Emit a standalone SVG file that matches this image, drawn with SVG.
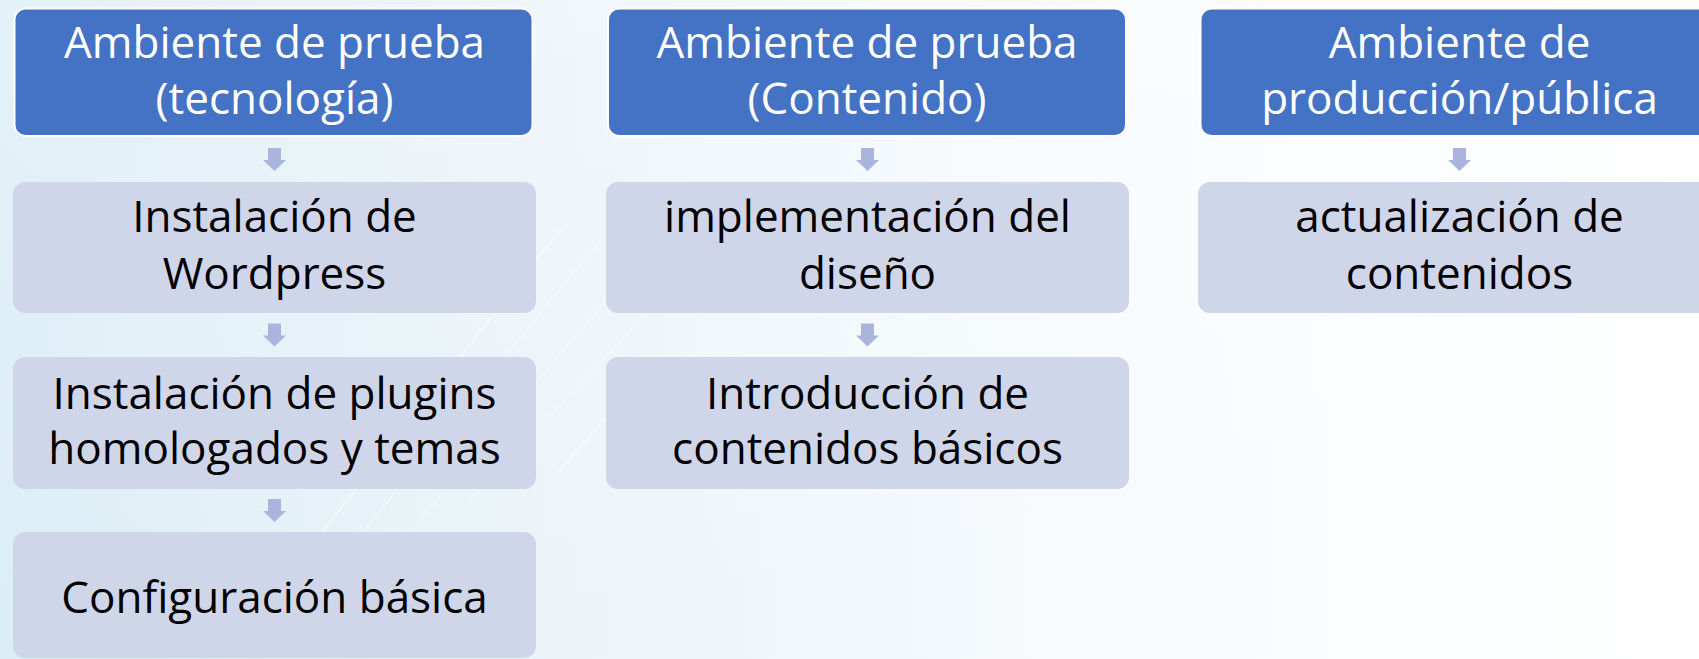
<svg xmlns="http://www.w3.org/2000/svg" width="1699" height="659" viewBox="0 0 1699 659">
  <defs>
    <linearGradient id="bg" x1="0" y1="0" x2="1" y2="0">
      <stop offset="0" stop-color="#dbedf6"/>
      <stop offset="0.3" stop-color="#eaf3f9"/>
      <stop offset="0.6" stop-color="#f6fafd"/>
      <stop offset="1" stop-color="#ffffff"/>
    </linearGradient>
    <linearGradient id="bgv" x1="0" y1="0" x2="0" y2="1">
      <stop offset="0" stop-color="#ffffff" stop-opacity="0.25"/>
      <stop offset="1" stop-color="#ffffff" stop-opacity="0"/>
    </linearGradient>
    <style>
      .hdr { fill: #4472c4; stroke: #ffffff; stroke-width: 2; }
      .box { fill: #d0d6ea; }
      .arrow { fill: #a9b5dc; }
      .t { font-family: "Open Sans", "Liberation Sans", sans-serif; font-size: 44px; text-anchor: middle; }
      .tw { fill: #ffffff; }
      .tb { fill: #000000; }
      .streak { stroke: #ffffff; fill: none; stroke-linecap: round; }
    </style>
  </defs>

  <rect x="0" y="0" width="1699" height="659" fill="url(#bg)"/>
  <rect x="0" y="0" width="1699" height="659" fill="url(#bgv)"/>
  <g id="background-streaks" opacity="0.35">
    <path class="streak" d="M300 560 L560 230" stroke-width="3"/>
    <path class="streak" d="M340 560 L600 240" stroke-width="2"/>
    <path class="streak" d="M420 520 L640 260" stroke-width="2"/>
    <path class="streak" d="M470 500 L660 300" stroke-width="1.5"/>
    <path class="streak" d="M560 470 L640 380" stroke-width="4"/>
  </g>

  <g id="connectors">
    <polygon class="arrow" points="268,148 281,148 281,160 286,160 274.5,171 263,160 268,160"/>
    <polygon class="arrow" points="268,323.5 281,323.5 281,335.5 286,335.5 274.5,346.5 263,335.5 268,335.5"/>
    <polygon class="arrow" points="268,499 281,499 281,511 286,511 274.5,522 263,511 268,511"/>
    <polygon class="arrow" points="861,148 874,148 874,160 879,160 867.5,171 856,160 861,160"/>
    <polygon class="arrow" points="861,323.5 874,323.5 874,335.5 879,335.5 867.5,346.5 856,335.5 861,335.5"/>
    <polygon class="arrow" points="1453,148 1466,148 1466,160 1471,160 1459.5,171 1448,160 1453,160"/>
  </g>

  <g id="c1-header">
    <rect class="hdr" x="14.5" y="8.5" width="518" height="127.5" rx="11"/>
    <text class="t tw"><tspan x="274.5" y="58">Ambiente de prueba</tspan><tspan x="274.5" y="114">(tecnología)</tspan></text>
  </g>
  <g id="c1-step1">
    <rect class="box" x="13" y="182" width="523" height="131" rx="12"/>
    <text class="t tb"><tspan x="274.5" y="232">Instalación de</tspan><tspan x="274.5" y="289">Wordpress</tspan></text>
  </g>
  <g id="c1-step2">
    <rect class="box" x="13" y="357" width="523" height="132" rx="12"/>
    <text class="t tb"><tspan x="274.5" y="409">Instalación de plugins</tspan><tspan x="274.5" y="464">homologados y temas</tspan></text>
  </g>
  <g id="c1-step3">
    <rect class="box" x="13" y="532" width="523" height="126" rx="12"/>
    <text class="t tb" x="274.5" y="613">Configuración básica</text>
  </g>

  <g id="c2-header">
    <rect class="hdr" x="608" y="8.5" width="518" height="127.5" rx="11"/>
    <text class="t tw"><tspan x="867" y="58">Ambiente de prueba</tspan><tspan x="867" y="114">(Contenido)</tspan></text>
  </g>
  <g id="c2-step1">
    <rect class="box" x="606" y="182" width="523" height="131" rx="12"/>
    <text class="t tb"><tspan x="867.5" y="232">implementación del</tspan><tspan x="867.5" y="289">diseño</tspan></text>
  </g>
  <g id="c2-step2">
    <rect class="box" x="606" y="357" width="523" height="132" rx="12"/>
    <text class="t tb"><tspan x="867.5" y="409">Introducción de</tspan><tspan x="867.5" y="464">contenidos básicos</tspan></text>
  </g>

  <g id="c3-header">
    <rect class="hdr" x="1200.5" y="8.5" width="518" height="127.5" rx="11"/>
    <text class="t tw"><tspan x="1459.5" y="58">Ambiente de</tspan><tspan x="1459.5" y="114">producción/pública</tspan></text>
  </g>
  <g id="c3-step1">
    <rect class="box" x="1198" y="182" width="523" height="131" rx="12"/>
    <text class="t tb"><tspan x="1459.5" y="232">actualización de</tspan><tspan x="1459.5" y="289">contenidos</tspan></text>
  </g>
</svg>
